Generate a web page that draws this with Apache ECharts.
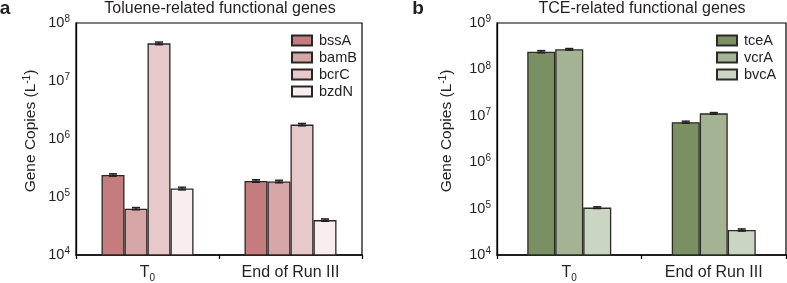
<!DOCTYPE html>
<html>
<head>
<meta charset="utf-8">
<script src="https://cdn.jsdelivr.net/npm/echarts@6/dist/echarts.min.js"></script>
<style>
html,body{margin:0;padding:0;background:#fff;}
#c{width:787px;height:283px;}
</style>
</head>
<body>
<div id="c"></div>
<script>
// ---- data ----
const categories = ['T0', 'End of Run III'];
const tolueneGenes = ['bssA', 'bamB', 'bcrC', 'bzdN'];
const bssA = [2.4e5, 1.89e5];
const bamB = [6.3e4, 1.85e5];
const bcrC = [4.46e7, 1.77e6];
const bzdN = [1.4e5, 4.0e4];
const bssAErr = [1.2e4, 1.0e4];
const bamBErr = [3.0e3, 1.0e4];
const bcrCErr = [2.5e6, 9.0e4];
const bzdNErr = [8.0e3, 2.0e3];

const tceGenes = ['tceA', 'vcrA', 'bvcA'];
const tceA = [2.41e8, 7.3e6];
const vcrA = [2.71e8, 1.13e7];
const bvcA = [1.05e5, 3.46e4];
const tceAErr = [1.4e7, 4.0e5];
const vcrAErr = [1.2e7, 5.0e5];
const bvcAErr = [5.0e3, 2.0e3];

const leftTicks = [1e4, 1e5, 1e6, 1e7, 1e8];
const rightTicks = [1e4, 1e5, 1e6, 1e7, 1e8, 1e9];

const leftColors = ['#c47c7e', '#d6a6a7', '#e8c9cb', '#f8eeee'];
const rightColors = ['#7a8f62', '#a3b393', '#cbd5c3'];

const FONT = '"Liberation Sans", Arial, Helvetica, sans-serif';
const TXT = '#231f20';

const leftVals = [bssA, bamB, bcrC, bzdN];
const leftErrs = [bssAErr, bamBErr, bcrCErr, bzdNErr];
const rightVals = [tceA, vcrA, bvcA];
const rightErrs = [tceAErr, vcrAErr, bvcAErr];

const LBW = 23, RBW = 28;

function expLabel(v) {
  return '10{sup|' + Math.round(Math.log10(v)) + '}';
}
const yLabelRich = {
  sup: { fontSize: 10, lineHeight: 10, verticalAlign: 'top', fontFamily: FONT, color: TXT }
};
function catLabel(v) {
  if (v === 'T0') return 'T{sub|0}';
  return v;
}
const xLabelRich = {
  sub: { fontSize: 10, lineHeight: 10, verticalAlign: 'bottom', fontFamily: FONT, color: TXT }
};

function errSeries(vals, errs, xi, bw) {
  const data = [];
  vals.forEach((arr, si) => {
    arr.forEach((v, ci) => {
      data.push([ci, v - errs[si][ci], v + errs[si][ci], si]);
    });
  });
  const n = vals.length;
  return {
    type: 'custom',
    xAxisIndex: xi, yAxisIndex: xi,
    z: 10,
    silent: true,
    encode: { x: 0, y: [1, 2] },
    data: data,
    renderItem: function (params, api) {
      const ci = api.value(0);
      const si = api.value(3);
      const hi = api.coord([ci, api.value(2)]);
      const lo = api.coord([ci, api.value(1)]);
      const x = hi[0] + (si - (n - 1) / 2) * bw;
      const hw = 4;
      const st = { stroke: '#231f20', lineWidth: 1.3 };
      return {
        type: 'group',
        children: [
          { type: 'line', shape: { x1: x, y1: hi[1], x2: x, y2: lo[1] }, style: st },
          { type: 'line', shape: { x1: x - hw, y1: hi[1], x2: x + hw, y2: hi[1] }, style: st },
          { type: 'line', shape: { x1: x - hw, y1: lo[1], x2: x + hw, y2: lo[1] }, style: st },
          { type: 'rect', shape: { x: x - hw, y: hi[1], width: 2 * hw, height: Math.max(lo[1] - hi[1], 0.1) }, style: { fill: 'rgba(35,31,32,0.55)' } }
        ]
      };
    }
  };
}

const series = [];
tolueneGenes.forEach((name, i) => {
  series.push({
    name: name, type: 'bar', xAxisIndex: 0, yAxisIndex: 0,
    data: leftVals[i], barWidth: LBW, barGap: '0%',
    itemStyle: { color: leftColors[i], borderColor: '#2b2626', borderWidth: 1.3 },
    emphasis: { disabled: true }
  });
});
tceGenes.forEach((name, i) => {
  series.push({
    name: name, type: 'bar', xAxisIndex: 1, yAxisIndex: 1,
    data: rightVals[i], barWidth: RBW, barGap: '0%',
    itemStyle: { color: rightColors[i], borderColor: '#2b2b26', borderWidth: 1.3 },
    emphasis: { disabled: true }
  });
});
series.push(errSeries(leftVals, leftErrs, 0, LBW));
series.push(errSeries(rightVals, rightErrs, 1, RBW));

function xAxis(gi) {
  return {
    type: 'category', gridIndex: gi, data: categories,
    axisLine: { lineStyle: { color: '#000', width: 1.5 } },
    axisTick: { show: true, length: 4, lineStyle: { color: '#000', width: 1.2 } },
    axisLabel: {
      formatter: catLabel, rich: xLabelRich, fontSize: 16, lineHeight: 20,
      color: TXT, fontFamily: FONT, margin: 8
    }
  };
}
function yAxis(gi, ticks) {
  return {
    type: 'log', gridIndex: gi, logBase: 10,
    min: ticks[0], max: ticks[ticks.length - 1],
    splitNumber: ticks.length - 1,
    axisLine: { show: true, lineStyle: { color: '#000', width: 1.3 } },
    axisTick: { show: false },
    splitLine: { show: false },
    axisLabel: {
      formatter: expLabel, rich: yLabelRich, fontSize: 14.5, lineHeight: 17,
      color: TXT, fontFamily: FONT, margin: 6
    }
  };
}

function legend(names, left, top) {
  return {
    data: names, orient: 'vertical', left: left, top: top,
    padding: 0, itemGap: 2, itemWidth: 20, itemHeight: 10,
    icon: 'rect', selectedMode: false,
    textStyle: { fontSize: 14.5, lineHeight: 14, color: TXT, fontFamily: FONT, padding: [0, 0, 0, 2] }
  };
}

function yName(x, y) {
  return {
    type: 'text', x: x, y: y, rotation: Math.PI / 2,
    style: {
      text: 'Gene Copies (L{sup|-1})',
      rich: { sup: { fontSize: 10, lineHeight: 10, verticalAlign: 'top', fill: TXT, fontFamily: FONT } },
      fontSize: 15.5, lineHeight: 18, fontFamily: FONT, fill: TXT,
      align: 'center', verticalAlign: 'middle', textAlign: 'center', textVerticalAlign: 'middle'
    }
  };
}
function txt(x, y, s, size, weight) {
  return {
    type: 'text', x: x, y: y,
    style: {
      text: s, fontSize: size, fontWeight: weight || 'normal', fontFamily: FONT, fill: TXT,
      align: 'center', verticalAlign: 'middle', textAlign: 'center', textVerticalAlign: 'middle'
    }
  };
}

const chart = echarts.init(document.getElementById('c'), null, { renderer: 'canvas' });
chart.setOption({
  animation: false,
  backgroundColor: '#fff',
  grid: [
    { left: 76, top: 23, width: 286, height: 233, show: true, borderColor: '#000', borderWidth: 1.2, backgroundColor: 'transparent' },
    { left: 497, top: 23, width: 289, height: 232, show: true, borderColor: '#000', borderWidth: 1.2, backgroundColor: 'transparent' }
  ],
  xAxis: [xAxis(0), xAxis(1)],
  yAxis: [yAxis(0, leftTicks), yAxis(1, rightTicks)],
  legend: [legend(tolueneGenes, 291, 33), legend(tceGenes, 716, 33)],
  graphic: [
    txt(5, 9, 'a', 19, 'bold'),
    txt(418, 9, 'b', 19, 'bold'),
    txt(220, 9, 'Toluene-related functional genes', 16),
    txt(642, 9, 'TCE-related functional genes', 16),
    yName(31, 131),
    yName(447, 131)
  ],
  series: series
});
</script>
</body>
</html>
